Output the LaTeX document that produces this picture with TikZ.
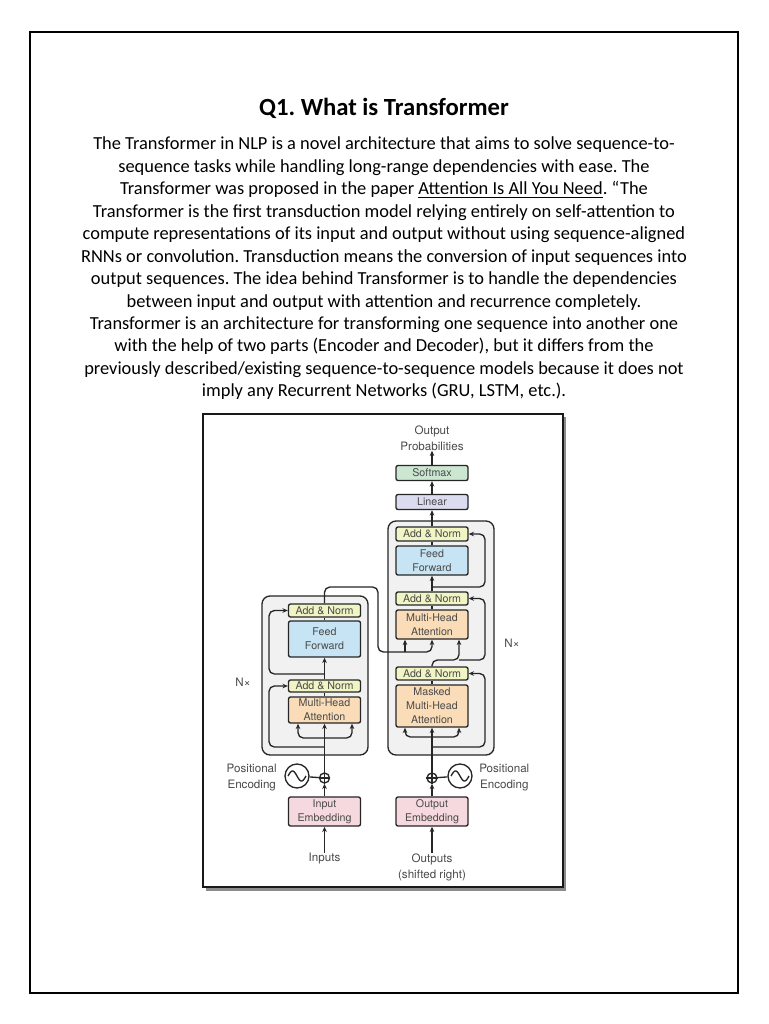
\documentclass[tikz,border=0pt]{standalone}
\usepackage{fontspec}
\setmainfont{Carlito}
\newfontfamily\diagfont{TeX Gyre Heros}
\usepackage{xcolor}
\usetikzlibrary{arrows.meta, positioning, calc}

\definecolor{linec}{HTML}{262626}
\definecolor{txtc}{HTML}{4A4A4A}
\definecolor{stackc}{HTML}{F1F1F2}
\definecolor{anfill}{HTML}{F1F5C4}
\definecolor{fffill}{HTML}{C6E4F3}
\definecolor{mhafill}{HTML}{FADCB8}
\definecolor{embfill}{HTML}{F6D9DE}
\definecolor{smfill}{HTML}{CBE7D1}
\definecolor{linfill}{HTML}{DCDCF0}

\begin{document}
\frenchspacing
\begin{tikzpicture}[
  x=0.75pt, y=-0.75pt,
  font=\diagfont\fontsize{8}{10.5}\selectfont,
  blk/.style={draw=linec, line width=1pt, rounded corners=1.5pt, minimum width=54pt, inner sep=0pt, text=txtc, align=center},
  stackbox/.style={draw=linec, fill=stackc, line width=1pt, rounded corners=6pt, inner sep=0pt},
  lbl/.style={text=txtc, align=center, inner sep=0pt, font=\diagfont\fontsize{8.7}{12}\selectfont},
  arr/.style={-{Stealth[length=4pt, width=3.4pt]}, line width=1pt, draw=linec},
  ln/.style={line width=1pt, draw=linec},
  rc/.style={rounded corners=4pt}
]
\useasboundingbox (0,0) rectangle (768,1024);
\fill[white] (0,0) rectangle (768,1024);
\draw[line width=1pt, black] (30,32) rectangle (738,993);

% page text
\node[font=\rmfamily\bfseries\fontsize{18.5}{22}\selectfont] (title) at (384,108) {Q1. What is Transformer};
\node[font=\rmfamily\fontsize{13.8}{16.84}\selectfont, align=center, inner sep=0pt] (body) at (384,268.5) {%
The Transformer in NLP is a novel architecture that aims to solve sequence-to-\\
sequence tasks while handling long-range dependencies with ease. The\\
Transformer was proposed in the paper \underline{Attention Is All You Need}. “The\\
Transformer is the first transduction model relying entirely on self-attention to\\
compute representations of its input and output without using sequence-aligned\\
RNNs or convolution. Transduction means the conversion of input sequences into\\
output sequences. The idea behind Transformer is to handle the dependencies\\
between input and output with attention and recurrence completely.\\
Transformer is an architecture for transforming one sequence into another one\\
with the help of two parts (Encoder and Decoder), but it differs from the\\
previously described/existing sequence-to-sequence models because it does not\\
imply any Recurrent Networks (GRU, LSTM, etc.).};

% figure frame
\fill[black!45] (206,417) rectangle (566,891);
\draw[line width=2.2pt, draw=black!90, fill=white] (203,414) rectangle (563,887);

% stacks
\node[stackbox, minimum width=79.5pt, minimum height=119.25pt] (encblk) at (315,675.5) {};
\node[stackbox, minimum width=79.5pt, minimum height=175.5pt] (decblk) at (441,638) {};

% encoder
\node[blk, fill=anfill, minimum height=9.75pt] (ean2) at (324.5,610.5) {Add \& Norm};
\node[blk, fill=fffill, minimum height=27pt] (eff) at (324.5,639) {Feed\\Forward};
\node[blk, fill=anfill, minimum height=9pt] (ean1) at (324.5,686) {Add \& Norm};
\node[blk, fill=mhafill, minimum height=19.5pt] (emha) at (324.5,710) {Multi-Head\\Attention};
\node[blk, fill=embfill, minimum height=21.75pt] (eemb) at (324.5,811.5) {Input\\Embedding};
\node[circle, ln, minimum size=7.5pt, inner sep=0pt] (eplus) at (324.5,778) {};
\node[circle, ln, minimum size=18pt, inner sep=0pt] (epe) at (297,776) {};
\node[lbl, anchor=east] (epelbl) at (277,778) {Positional\\Encoding};
\node[lbl] (einp) at (324.5,859) {Inputs};
\node[lbl] (encn) at (243,682) {N×};

% decoder
\node[blk, fill=anfill, minimum height=10.5pt] (dan3) at (432,534) {Add \& Norm};
\node[blk, fill=fffill, minimum height=21.75pt] (dff) at (432,560.5) {Feed\\Forward};
\node[blk, fill=anfill, minimum height=9.75pt] (dan2) at (432,598.5) {Add \& Norm};
\node[blk, fill=mhafill, minimum height=21.75pt] (dmha) at (432,624.5) {Multi-Head\\Attention};
\node[blk, fill=anfill, minimum height=9.75pt] (dan1) at (432,673.5) {Add \& Norm};
\node[blk, fill=mhafill, minimum height=31.5pt] (dmmha) at (432,706) {Masked\\Multi-Head\\Attention};
\node[blk, fill=embfill, minimum height=21.75pt] (demb) at (432,811.5) {Output\\Embedding};
\node[circle, ln, minimum size=7.5pt, inner sep=0pt] (dplus) at (432,778) {};
\node[circle, ln, minimum size=18pt, inner sep=0pt] (dpe) at (460,776) {};
\node[lbl, anchor=west] (dpelbl) at (479,778) {Positional\\Encoding};
\node[lbl] (dinp) at (432,867) {Outputs\\(shifted right)};
\node[lbl] (decn) at (512,643) {N×};

% output head
\node[blk, fill=linfill, minimum height=11.25pt] (linear) at (432,502) {Linear};
\node[blk, fill=smfill, minimum height=11.25pt] (softmax) at (432,473) {Softmax};
\node[lbl] (outp) at (432,438) {Output\\Probabilities};

% helper points
\coordinate (eres) at (269,0);
\coordinate (dres) at (485,0);
\coordinate (er1) at (324.5,747);
\coordinate (er2) at (324.5,674);
\coordinate (efork) at (324.5,738);
\coordinate (efl) at (298,0);
\coordinate (efr) at (352,0);
\coordinate (eout) at (378,587);
\coordinate (dkv) at (405,652);
\coordinate (dq) at (459,660);
\coordinate (dr1) at (432,747);
\coordinate (dr3) at (432,587);
\coordinate (dfork) at (432,737);
\coordinate (dfl) at (405,0);
\coordinate (dfr) at (459,0);

% sine waves and plus signs
\draw[ln] plot[domain=-9:9, samples=30, smooth] ({297+\x}, {776+5*sin(20*\x)});
\draw[ln] plot[domain=-9:9, samples=30, smooth] ({460+\x}, {776+5*sin(20*\x)});
\draw[ln] (eplus.west) -- (eplus.east) (eplus.north) -- (eplus.south);
\draw[ln] (dplus.west) -- (dplus.east) (dplus.north) -- (dplus.south);
\draw[ln] (epe) -- (eplus);
\draw[ln] (dpe) -- (dplus);

% encoder connectors
\draw[arr] (einp) -- (eemb);
\draw[arr] (eemb) -- (eplus);
\draw[arr] (eplus) -- (emha);
\draw[arr, rc] (efork) -| (emha.south -| efl);
\draw[arr, rc] (efork) -| (emha.south -| efr);
\draw[arr, rc] (er1) -| (eres |- ean1.west) -- (ean1.west);
\draw[ln] (emha) -- (ean1);
\draw[arr] (ean1) -- (eff);
\draw[arr, rc] (er2) -| (eres |- ean2.west) -- (ean2.west);
\draw[ln] (eff) -- (ean2);
\draw[arr, rc] (ean2.north) |- (eout) |- (dkv) -| (dmha.south);
\draw[arr] (dkv) -- (dkv |- dmha.south);

% decoder connectors
\draw[arr] (dinp) -- (demb);
\draw[arr] (demb) -- (dplus);
\draw[arr] (dplus) -- (dmmha);
\draw[arr, rc] (dfork) -| (dmmha.south -| dfl);
\draw[arr, rc] (dfork) -| (dmmha.south -| dfr);
\draw[arr, rc] (dr1) -| (dres |- dan1.east) -- (dan1.east);
\draw[ln] (dmmha) -- (dan1);
\draw[arr, rc] (dan1.north) |- (dq) -- (dq |- dmha.south);
\draw[arr, rc] (dq) -| (dres |- dan2.east) -- (dan2.east);
\draw[ln] (dmha) -- (dan2);
\draw[arr] (dan2) -- (dff);
\draw[arr, rc] (dr3) -| (dres |- dan3.east) -- (dan3.east);
\draw[ln] (dff) -- (dan3);
\draw[arr] (dan3) -- (linear);
\draw[arr] (linear) -- (softmax);
\draw[arr] (softmax) -- (outp);
\end{tikzpicture}
\end{document}
